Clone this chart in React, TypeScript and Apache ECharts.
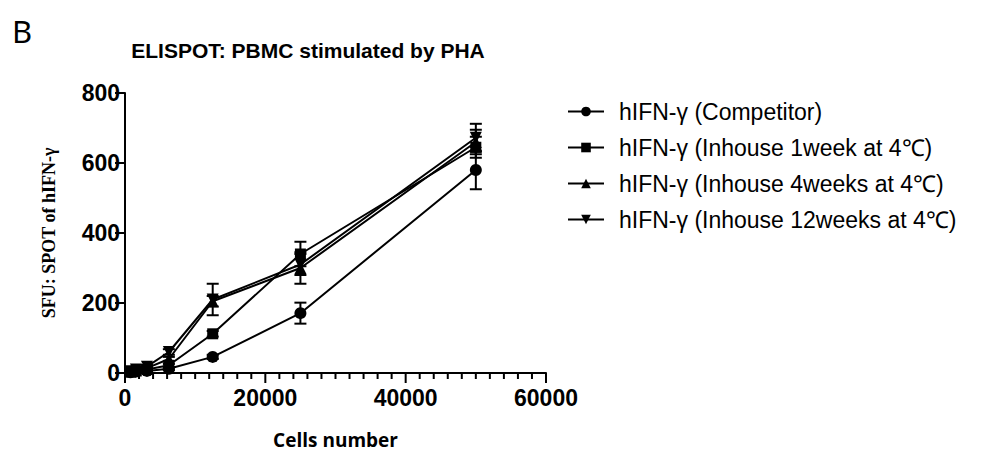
import * as echarts from "echarts";
import { useEffect, useRef } from "react";

const cells = [781, 1563, 3125, 6250, 12500, 25000, 50000];

const seriesNames = [
  "hIFN-γ (Competitor)",
  "hIFN-γ (Inhouse 1week at 4℃)",
  "hIFN-γ (Inhouse 4weeks at 4℃)",
  "hIFN-γ (Inhouse 12weeks at 4℃)",
];

const competitor = [2, 4, 6, 12, 46, 171, 580];
const competitorErr = [1, 2, 3, 4, 6, 30, 55];
const week1 = [3, 6, 10, 22, 112, 340, 645];
const week1Err = [2, 3, 4, 5, 8, 35, 30];
const week4 = [4, 8, 14, 40, 205, 300, 660];
const week4Err = [2, 3, 4, 6, 15, 45, 35];
const week12 = [5, 10, 18, 60, 210, 310, 672];
const week12Err = [2, 3, 5, 8, 45, 30, 40];

// x axis: major ticks every 20000, minor ticks every 2000
const xMax = 60000;
const xMajor = 20000;
const xMinor = 2000;

const symbols = ["circle", "rect", "triangle", "triangle"];
const rotations = [0, 0, 0, 180];

const means = [competitor, week1, week4, week12];
const errors = [competitorErr, week1Err, week4Err, week12Err];

const letterB = {
  type: "text",
  left: 12,
  top: 15,
  style: { text: "B", fontFamily: "Noto Sans", fontSize: 31, fill: "#000" },
};

const App: React.FC = () => {
  const chartRef = useRef<HTMLDivElement>(null);

  useEffect(() => {
    if (!chartRef.current) return;
    const chart = echarts.init(chartRef.current, undefined, { renderer: "svg" });

    const lineSeries = means.map((vals, i) => ({
      name: seriesNames[i],
      type: "line",
      data: cells.map((c, j) => [c, vals[j]]),
      symbol: symbols[i],
      symbolRotate: rotations[i],
      symbolSize: i === 1 ? 11 : 12,
      itemStyle: { color: "#000" },
      lineStyle: { color: "#000", width: 2 },
      z: 3,
    }));

    const errorSeries = means.map((vals, i) => ({
      type: "custom",
      name: seriesNames[i] + " err",
      data: cells.map((c, j) => [c, vals[j], errors[i][j]]),
      renderItem: (_params: any, api: any) => {
        const x = api.value(0);
        const y = api.value(1);
        const e = api.value(2);
        const top = api.coord([x, y + e]);
        const bottom = api.coord([x, Math.max(y - e, 0)]);
        const w = 6;
        const style = { stroke: "#000", lineWidth: 2 };
        return {
          type: "group",
          children: [
            { type: "line", shape: { x1: top[0], y1: top[1], x2: bottom[0], y2: bottom[1] }, style },
            { type: "line", shape: { x1: top[0] - w, y1: top[1], x2: top[0] + w, y2: top[1] }, style },
            { type: "line", shape: { x1: bottom[0] - w, y1: bottom[1], x2: bottom[0] + w, y2: bottom[1] }, style },
          ],
        };
      },
      z: 2,
    }));

    const axisLineStyle = { color: "#000", width: 2 };

    chart.setOption({
      animation: false,
      backgroundColor: "#fff",
      title: {
        text: "ELISPOT: PBMC stimulated by PHA",
        left: 303,
        textAlign: "center",
        top: 35,
        textStyle: { fontFamily: "Liberation Sans", fontWeight: "bold", fontSize: 21, color: "#000" },
      },
      graphic: [letterB],
      legend: {
        data: seriesNames,
        orient: "vertical",
        left: 562,
        top: 95,
        itemWidth: 36,
        itemHeight: 12,
        itemGap: 13,
        textStyle: { fontFamily: "Liberation Sans", fontSize: 23, color: "#000", padding: [0, 0, 0, 10] },
      },
      grid: { left: 125, right: 445, top: 93, bottom: 87 },
      xAxis: {
        type: "value",
        min: 0,
        max: xMax,
        interval: xMajor,
        name: "Cells number",
        nameLocation: "middle",
        nameGap: 57,
        nameTextStyle: { fontFamily: "Open Sans", fontWeight: "bold", fontSize: 19, color: "#000" },
        axisLine: { show: true, onZero: false, lineStyle: axisLineStyle },
        axisTick: { show: false },
        axisLabel: {
          fontFamily: "Liberation Sans",
          fontWeight: "bold",
          fontSize: 23,
          color: "#000",
          margin: 13,
          formatter: (v: number) => String(v),
        },
        splitLine: { show: false },
      },
      yAxis: {
        type: "value",
        min: 0,
        max: 800,
        interval: 200,
        name: "SFU: SPOT of hIFN-γ",
        nameLocation: "middle",
        nameGap: 67,
        nameTextStyle: { fontFamily: "Liberation Serif", fontWeight: "bold", fontSize: 18, color: "#000" },
        axisLine: { show: true, onZero: false, lineStyle: axisLineStyle },
        axisTick: { show: true, length: 10, lineStyle: axisLineStyle },
        axisLabel: { fontFamily: "Liberation Sans", fontWeight: "bold", fontSize: 23, color: "#000", margin: 5 },
        splitLine: { show: false },
      },
      series: [...errorSeries, ...lineSeries],
    });

    // x axis major and minor ticks, placed through the axis scale
    const ticks: any[] = [];
    for (let v = 0; v <= xMax; v += xMinor) {
      const p = chart.convertToPixel({ gridIndex: 0 }, [v, 0]) as number[];
      const len = v % xMajor === 0 ? 10 : 6;
      ticks.push({
        type: "rect",
        silent: true,
        shape: { x: p[0] - 1, y: p[1], width: 2, height: len },
        style: { fill: "#000" },
        z: 10,
      });
    }
    chart.setOption({ graphic: [letterB, ...ticks] });

    return () => {
      chart.dispose();
    };
  }, []);

  return <div ref={chartRef} style={{ width: 991, height: 460, margin: -8 }} />;
};

export default App;
